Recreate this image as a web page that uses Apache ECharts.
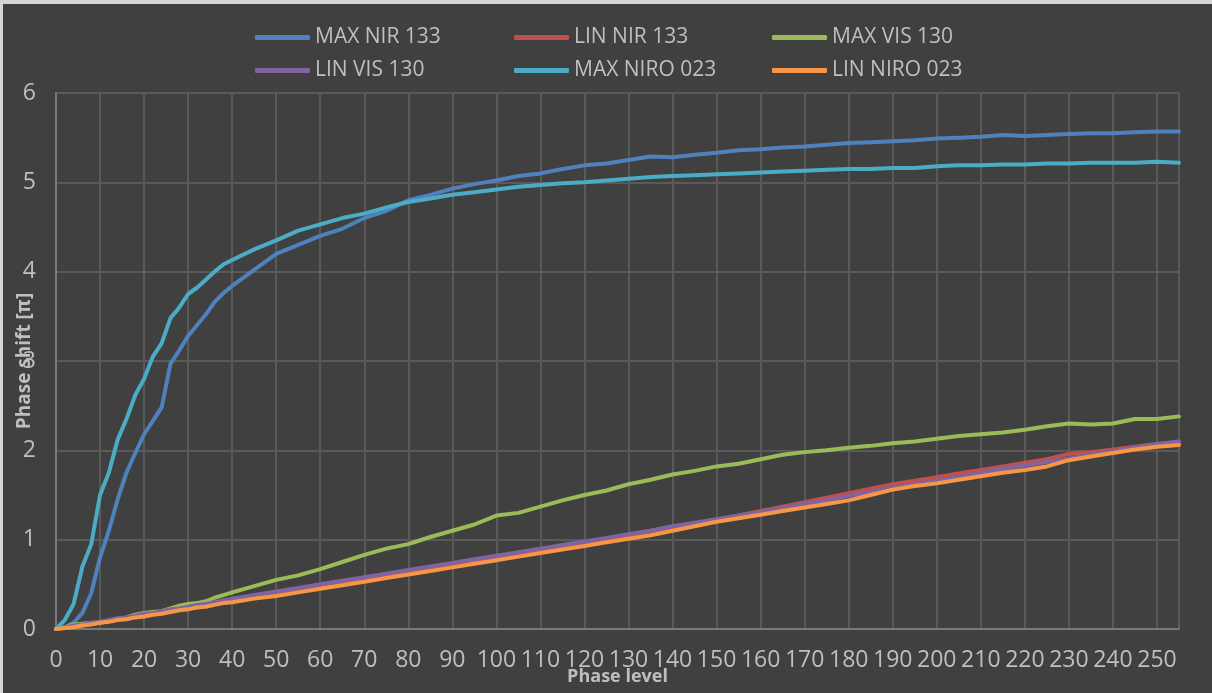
<!DOCTYPE html>
<html>
<head>
<meta charset="utf-8">
<script src="https://cdn.jsdelivr.net/npm/echarts@6/dist/echarts.min.js"></script>
<style>
  html, body { margin: 0; padding: 0; background: #404040; }
  #main {
    width: 1209px; height: 689px;
    border-left: 3px solid #d6d6d6; border-top: 4px solid #d6d6d6;
    background: #404040;
  }
</style>
</head>
<body>
<div id="main"></div>
<script>
const levels = [0, 2, 4, 6, 8, 10, 12, 14, 16, 18, 20, 22, 24, 26, 28, 30, 32, 34, 36, 38, 40,
  45, 50, 55, 60, 65, 70, 75, 80, 85, 90, 95, 100, 105, 110, 115, 120, 125, 130, 135, 140,
  145, 150, 155, 160, 165, 170, 175, 180, 185, 190, 195, 200, 205, 210, 215, 220, 225, 230,
  235, 240, 245, 250, 255];

const maxNir133 = [0, 0.02, 0.07, 0.18, 0.4, 0.8, 1.1, 1.45, 1.75, 1.97, 2.18, 2.33, 2.48, 2.97, 3.12, 3.28, 3.4, 3.52, 3.66, 3.76, 3.84,
  4.02, 4.2, 4.3, 4.4, 4.48, 4.6, 4.68, 4.8, 4.86, 4.93, 4.98, 5.02, 5.07, 5.1, 5.15, 5.19, 5.21, 5.25, 5.29, 5.28,
  5.31, 5.33, 5.36, 5.37, 5.39, 5.4, 5.42, 5.44, 5.45, 5.46, 5.47, 5.49, 5.5, 5.51, 5.53, 5.52, 5.53, 5.54,
  5.55, 5.55, 5.56, 5.57, 5.57];
const linNir133 = [0, 0.01, 0.03, 0.04, 0.06, 0.07, 0.09, 0.11, 0.12, 0.14, 0.16, 0.17, 0.19, 0.21, 0.22, 0.24, 0.26, 0.27, 0.29, 0.31, 0.33,
  0.37, 0.41, 0.45, 0.49, 0.53, 0.56, 0.61, 0.65, 0.69, 0.73, 0.77, 0.81, 0.85, 0.89, 0.93, 0.97, 1.01, 1.05, 1.1, 1.14,
  1.18, 1.23, 1.27, 1.32, 1.37, 1.42, 1.47, 1.52, 1.57, 1.62, 1.66, 1.7, 1.74, 1.78, 1.82, 1.86, 1.9, 1.96,
  1.98, 2.01, 2.04, 2.07, 2.09];
const maxVis130 = [0, 0.02, 0.05, 0.06, 0.07, 0.07, 0.09, 0.11, 0.13, 0.16, 0.18, 0.19, 0.2, 0.23, 0.26, 0.28, 0.29, 0.31, 0.35, 0.38, 0.41,
  0.48, 0.55, 0.6, 0.67, 0.75, 0.83, 0.9, 0.95, 1.03, 1.1, 1.17, 1.27, 1.3, 1.37, 1.44, 1.5, 1.55, 1.62, 1.67, 1.73,
  1.77, 1.82, 1.85, 1.9, 1.95, 1.98, 2.0, 2.03, 2.05, 2.08, 2.1, 2.13, 2.16, 2.18, 2.2, 2.23, 2.27, 2.3,
  2.29, 2.3, 2.35, 2.35, 2.38];
const linVis130 = [0, 0.02, 0.04, 0.05, 0.07, 0.08, 0.1, 0.12, 0.13, 0.15, 0.17, 0.18, 0.2, 0.22, 0.23, 0.25, 0.27, 0.28, 0.3, 0.32, 0.34,
  0.38, 0.42, 0.46, 0.5, 0.54, 0.58, 0.62, 0.66, 0.7, 0.74, 0.78, 0.82, 0.86, 0.9, 0.94, 0.98, 1.02, 1.06, 1.1, 1.15,
  1.19, 1.23, 1.27, 1.31, 1.35, 1.4, 1.44, 1.49, 1.53, 1.58, 1.62, 1.66, 1.7, 1.75, 1.79, 1.83, 1.87, 1.91,
  1.95, 1.99, 2.03, 2.07, 2.1];
const maxNiro023 = [0, 0.1, 0.28, 0.7, 0.95, 1.5, 1.75, 2.12, 2.35, 2.62, 2.8, 3.05, 3.2, 3.48, 3.6, 3.75, 3.82, 3.91, 4.0, 4.08, 4.13,
  4.25, 4.35, 4.46, 4.53, 4.6, 4.65, 4.72, 4.78, 4.82, 4.86, 4.89, 4.92, 4.95, 4.97, 4.99, 5.0, 5.02, 5.04, 5.06, 5.07,
  5.08, 5.09, 5.1, 5.11, 5.12, 5.13, 5.14, 5.15, 5.15, 5.16, 5.16, 5.18, 5.19, 5.19, 5.2, 5.2, 5.21, 5.21,
  5.22, 5.22, 5.22, 5.23, 5.22];
const linNiro023 = [0, 0.01, 0.02, 0.04, 0.05, 0.07, 0.08, 0.1, 0.11, 0.13, 0.14, 0.16, 0.17, 0.19, 0.21, 0.22, 0.24, 0.25, 0.27, 0.29, 0.3,
  0.34, 0.37, 0.41, 0.45, 0.49, 0.53, 0.57, 0.61, 0.65, 0.69, 0.73, 0.77, 0.81, 0.85, 0.89, 0.93, 0.97, 1.01, 1.05, 1.1,
  1.15, 1.2, 1.24, 1.28, 1.32, 1.36, 1.4, 1.44, 1.5, 1.56, 1.6, 1.63, 1.67, 1.71, 1.75, 1.78, 1.82, 1.89,
  1.93, 1.97, 2.01, 2.04, 2.06];

const names = ['MAX NIR 133', 'LIN NIR 133', 'MAX VIS 130', 'LIN VIS 130', 'MAX NIRO 023', 'LIN NIRO 023'];
const values = [maxNir133, linNir133, maxVis130, linVis130, maxNiro023, linNiro023];
const colors = ['#4f81bd', '#c0504d', '#9bbb59', '#8064a2', '#4bacc6', '#f79646'];

const textColor = '#bfbfbf';
const font = 'Open Sans';

// one legend per entry so the columns line up like the original
const legendLeft = [252, 511, 769];
const legendTop = [23, 56];
const legends = names.map((name, i) => ({
  orient: 'horizontal',
  left: legendLeft[i % 3],
  top: legendTop[Math.floor(i / 3)],
  padding: 0,
  icon: 'roundRect',
  itemWidth: 55,
  itemHeight: 5,
  textStyle: { color: textColor, fontFamily: font, fontSize: 21 },
  data: [name],
}));

const option = {
  backgroundColor: '#404040',
  color: colors,
  animation: false,
  legend: legends,
  grid: { left: 53, right: 33, top: 89, bottom: 64, outerBoundsMode: 'none' },
  xAxis: {
    type: 'value',
    min: 0,
    max: 255,
    interval: 10,
    name: 'Phase level',
    nameLocation: 'middle',
    nameGap: 39,
    nameMoveOverlap: false,
    nameTextStyle: { color: textColor, fontFamily: font, fontSize: 18, fontWeight: 'bold' },
    axisLine: { show: true, lineStyle: { color: '#7a7a7a', width: 2 } },
    axisTick: { show: false },
    axisLabel: { color: textColor, fontFamily: font, fontSize: 23, margin: 20, showMaxLabel: false },
    splitLine: { show: true, lineStyle: { color: '#5a5a5a', width: 2 } },
  },
  yAxis: {
    type: 'value',
    min: 0,
    max: 6,
    interval: 1,
    name: 'Phase shift [π]',
    nameLocation: 'middle',
    nameGap: 22,
    nameMoveOverlap: false,
    nameTextStyle: { color: textColor, fontFamily: font, fontSize: 19, fontWeight: 'bold' },
    axisLine: { show: true, lineStyle: { color: '#7a7a7a', width: 2 } },
    axisTick: { show: false },
    axisLabel: { color: textColor, fontFamily: font, fontSize: 23, margin: 20 },
    splitLine: { show: true, lineStyle: { color: '#5a5a5a', width: 2 } },
  },
  series: names.map((name, i) => ({
    name,
    type: 'line',
    showSymbol: false,
    symbol: 'none',
    lineStyle: { width: 4, color: colors[i], cap: 'round', join: 'round' },
    itemStyle: { color: colors[i] },
    data: levels.map((lv, j) => [lv, values[i][j]]),
  })),
};

const myechart = echarts.init(document.getElementById('main'));
myechart.setOption(option);
</script>
</body>
</html>
